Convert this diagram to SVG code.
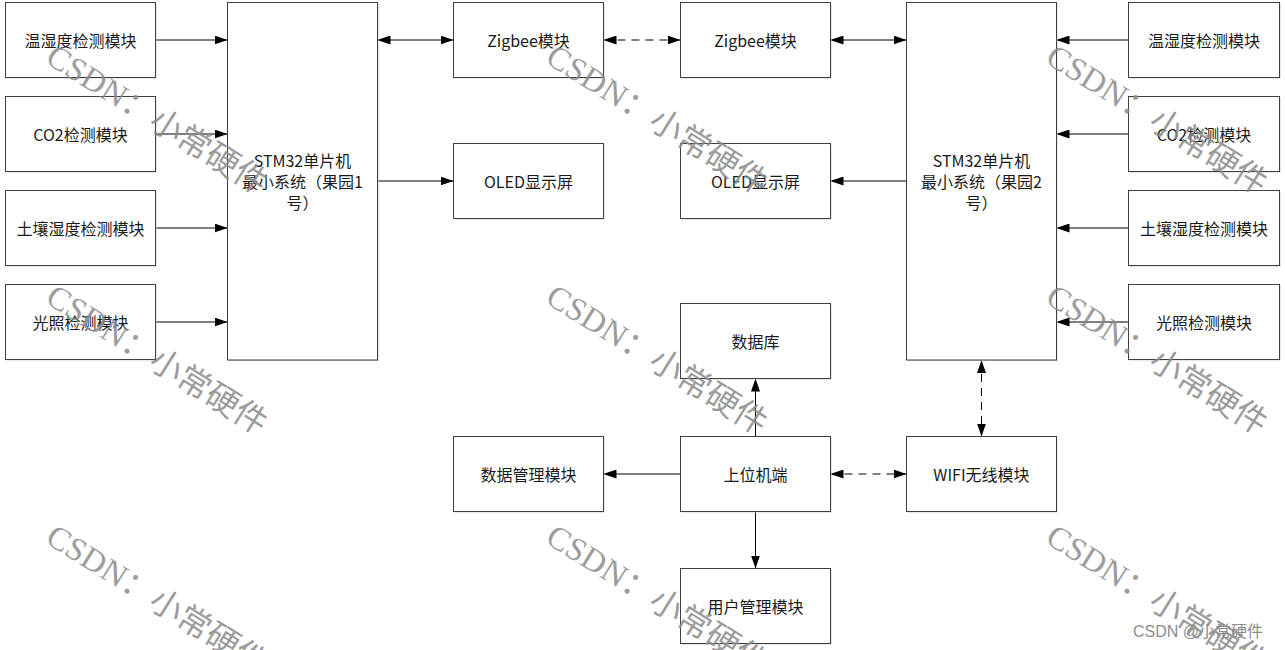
<svg xmlns="http://www.w3.org/2000/svg" width="1285" height="650" viewBox="0 0 1285 650">
<style>
.sh{fill:#cfcfcf}
.box{fill:#fff;stroke:#404040;stroke-width:1}
.t{font-family:"Noto Sans CJK SC","Noto Sans",sans-serif;font-size:16px;fill:#1a1a1a;text-anchor:middle;dominant-baseline:central}
.ln{stroke:#000;stroke-width:1;fill:none}
.ar{marker-end:url(#ah)}
.bi{marker-start:url(#ah);marker-end:url(#ah)}
.ds{stroke-dasharray:8 6}
.wm{font-family:"Liberation Serif","Noto Sans CJK SC",serif;font-size:33px;fill:#8a8a8a;fill-opacity:0.85}
.ft{font-family:"Liberation Sans","Noto Sans CJK SC",sans-serif;font-size:16px;fill:#8c8c8c}
</style>
<defs>
<marker id="ah" viewBox="0 0 13 9" refX="13" refY="4.5" markerWidth="13" markerHeight="9" markerUnits="userSpaceOnUse" orient="auto-start-reverse"><path d="M0,0 L13,4.5 L0,9 z" fill="#000"/></marker>
</defs>
<rect width="1285" height="650" fill="#fff"/>

<g id="connectors">
<line class="ln ar" x1="155.5" y1="40" x2="227.5" y2="40"/>
<line class="ln ar" x1="155.5" y1="134" x2="227.5" y2="134"/>
<line class="ln ar" x1="155.5" y1="228" x2="227.5" y2="228"/>
<line class="ln ar" x1="155.5" y1="322" x2="227.5" y2="322"/>
<line class="ln bi" x1="377.5" y1="40" x2="453.5" y2="40"/>
<line class="ln ar" x1="377.5" y1="181" x2="453.5" y2="181"/>
<line class="ln bi ds" x1="603.5" y1="40" x2="680.5" y2="40"/>
<line class="ln bi" x1="830.5" y1="40" x2="906.5" y2="40"/>
<line class="ln ar" x1="906.5" y1="181" x2="830.5" y2="181"/>
<line class="ln ar" x1="1128.5" y1="40" x2="1056.5" y2="40"/>
<line class="ln ar" x1="1128.5" y1="134" x2="1056.5" y2="134"/>
<line class="ln ar" x1="1128.5" y1="228" x2="1056.5" y2="228"/>
<line class="ln ar" x1="1128.5" y1="322" x2="1056.5" y2="322"/>
<line class="ln bi ds" x1="981.5" y1="360" x2="981.5" y2="436.5"/>
<line class="ln bi ds" x1="830.5" y1="474" x2="906.5" y2="474"/>
<line class="ln ar" x1="755.5" y1="436.5" x2="755.5" y2="378.5"/>
<line class="ln ar" x1="755.5" y1="511.5" x2="755.5" y2="568.5"/>
<line class="ln ar" x1="680.5" y1="474" x2="603.5" y2="474"/>
</g>

<g id="l-temp"><rect class="sh" x="6.5" y="3.5" width="150" height="75"/><rect class="box" x="5.5" y="2.5" width="150" height="75"/><text class="t" x="80.5" y="40">温湿度检测模块</text></g>
<g id="l-co2"><rect class="sh" x="6.5" y="97.5" width="150" height="75"/><rect class="box" x="5.5" y="96.5" width="150" height="75"/><text class="t" x="80.5" y="134">CO2检测模块</text></g>
<g id="l-soil"><rect class="sh" x="6.5" y="191.5" width="150" height="75"/><rect class="box" x="5.5" y="190.5" width="150" height="75"/><text class="t" x="80.5" y="228">土壤湿度检测模块</text></g>
<g id="l-light"><rect class="sh" x="6.5" y="285.5" width="150" height="75"/><rect class="box" x="5.5" y="284.5" width="150" height="75"/><text class="t" x="80.5" y="322">光照检测模块</text></g>

<g id="stm32-1"><rect class="sh" x="228.5" y="3.5" width="150" height="357.5"/><rect class="box" x="227.5" y="2.5" width="150" height="357.5"/>
<text class="t"><tspan x="302.5" y="160">STM32单片机</tspan><tspan x="302.5" y="181">最小系统（果园1</tspan><tspan x="302.5" y="202">号）</tspan></text></g>

<g id="zigbee-1"><rect class="sh" x="454.5" y="3.5" width="150" height="75"/><rect class="box" x="453.5" y="2.5" width="150" height="75"/><text class="t" x="528.5" y="40">Zigbee模块</text></g>
<g id="oled-1"><rect class="sh" x="454.5" y="144.5" width="150" height="75"/><rect class="box" x="453.5" y="143.5" width="150" height="75"/><text class="t" x="528.5" y="181">OLED显示屏</text></g>
<g id="zigbee-2"><rect class="sh" x="681.5" y="3.5" width="150" height="75"/><rect class="box" x="680.5" y="2.5" width="150" height="75"/><text class="t" x="755.5" y="40">Zigbee模块</text></g>
<g id="oled-2"><rect class="sh" x="681.5" y="144.5" width="150" height="75"/><rect class="box" x="680.5" y="143.5" width="150" height="75"/><text class="t" x="755.5" y="181">OLED显示屏</text></g>

<g id="stm32-2"><rect class="sh" x="907.5" y="3.5" width="150" height="357.5"/><rect class="box" x="906.5" y="2.5" width="150" height="357.5"/>
<text class="t"><tspan x="981.5" y="160">STM32单片机</tspan><tspan x="981.5" y="181">最小系统（果园2</tspan><tspan x="981.5" y="202">号）</tspan></text></g>

<g id="r-temp"><rect class="sh" x="1129.5" y="3.5" width="151" height="75"/><rect class="box" x="1128.5" y="2.5" width="151" height="75"/><text class="t" x="1204" y="40">温湿度检测模块</text></g>
<g id="r-co2"><rect class="sh" x="1129.5" y="97.5" width="151" height="75"/><rect class="box" x="1128.5" y="96.5" width="151" height="75"/><text class="t" x="1204" y="134">CO2检测模块</text></g>
<g id="r-soil"><rect class="sh" x="1129.5" y="191.5" width="151" height="75"/><rect class="box" x="1128.5" y="190.5" width="151" height="75"/><text class="t" x="1204" y="228">土壤湿度检测模块</text></g>
<g id="r-light"><rect class="sh" x="1129.5" y="285.5" width="151" height="75"/><rect class="box" x="1128.5" y="284.5" width="151" height="75"/><text class="t" x="1204" y="322">光照检测模块</text></g>

<g id="database"><rect class="sh" x="681.5" y="304.5" width="150" height="75"/><rect class="box" x="680.5" y="303.5" width="150" height="75"/><text class="t" x="755.5" y="341">数据库</text></g>
<g id="host"><rect class="sh" x="681.5" y="437.5" width="150" height="75"/><rect class="box" x="680.5" y="436.5" width="150" height="75"/><text class="t" x="755.5" y="474">上位机端</text></g>
<g id="data-mgmt"><rect class="sh" x="454.5" y="437.5" width="150" height="75"/><rect class="box" x="453.5" y="436.5" width="150" height="75"/><text class="t" x="528.5" y="474">数据管理模块</text></g>
<g id="wifi"><rect class="sh" x="907.5" y="437.5" width="150" height="75"/><rect class="box" x="906.5" y="436.5" width="150" height="75"/><text class="t" x="981.5" y="474">WIFI无线模块</text></g>
<g id="user-mgmt"><rect class="sh" x="681.5" y="569.5" width="150" height="75"/><rect class="box" x="680.5" y="568.5" width="150" height="75"/><text class="t" x="755.5" y="606">用户管理模块</text></g>

<g id="watermarks">
<text class="wm" transform="translate(44,62) rotate(32)">CSDN：小常硬件</text>
<text class="wm" transform="translate(544,62) rotate(32)">CSDN：小常硬件</text>
<text class="wm" transform="translate(1044,62) rotate(32)">CSDN：小常硬件</text>
<text class="wm" transform="translate(44,302) rotate(32)">CSDN：小常硬件</text>
<text class="wm" transform="translate(544,302) rotate(32)">CSDN：小常硬件</text>
<text class="wm" transform="translate(1044,302) rotate(32)">CSDN：小常硬件</text>
<text class="wm" transform="translate(44,542) rotate(32)">CSDN：小常硬件</text>
<text class="wm" transform="translate(544,542) rotate(32)">CSDN：小常硬件</text>
<text class="wm" transform="translate(1044,542) rotate(32)">CSDN：小常硬件</text>
<text class="ft" x="1133" y="637">CSDN @小常硬件</text>
</g>
</svg>
